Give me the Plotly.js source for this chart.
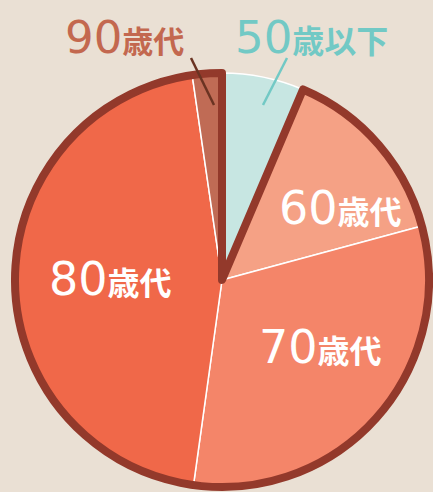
<!DOCTYPE html>
<html>
<head>
<meta charset="utf-8">
<script src="https://cdn.plot.ly/plotly-3.0.1.min.js"></script>
<style>
  html, body { margin: 0; padding: 0; background: #eae0d4; }
  #chart { width: 433px; height: 492px; }
</style>
</head>
<body>
<div id="chart"></div>
<script>
// Data
const categories = ['50歳以下', '60歳代', '70歳代', '80歳代', '90歳代'];
const shares = [6.4, 14.4, 31.4, 45.5, 2.3];
const sliceColors = ['#c7e6e2', '#f5a185', '#f48569', '#f06849', '#c06b55'];
const labelColors = ['#72c9c5', '#ffffff', '#ffffff', '#ffffff', '#c3684f'];

const W = 433, H = 492;
const cx = 222, cy = 280, r = 207;
const domain = {
  x: [(cx - r) / W, (cx + r) / W],
  y: [(H - cy - r) / H, (H - cy + r) / H]
};

// Base pie with thin white separators
const basePie = {
  type: 'pie',
  values: shares,
  labels: categories,
  sort: false,
  direction: 'clockwise',
  rotation: 0,
  domain: domain,
  marker: { colors: sliceColors, line: { color: '#ffffff', width: 1.5 } },
  textinfo: 'none',
  hoverinfo: 'skip',
  showlegend: false
};

// Outline group: everything except the first category
const restSum = shares.slice(1).reduce((a, b) => a + b, 0);
const outlinePie = {
  type: 'pie',
  values: [shares[0], restSum],
  labels: ['a', 'b'],
  sort: false,
  direction: 'clockwise',
  rotation: 0,
  domain: domain,
  marker: {
    colors: ['rgba(0,0,0,0)', 'rgba(0,0,0,0)'],
    line: { color: ['rgba(0,0,0,0)', '#93392b'], width: [0, 8] }
  },
  textinfo: 'none',
  hoverinfo: 'skip',
  showlegend: false
};

function labelHtml(cat, numSize, kanjiSize) {
  const m = cat.match(/^(\d+)(.*)$/);
  return '<span style="font-family:\'DejaVu Sans\';font-size:' + numSize + 'px">' + m[1] + '</span>' +
         '<b><span style="font-size:' + kanjiSize + 'px">' + m[2] + '</span></b>';
}

// Label placements (pixels)
const labelPos = [
  { x: 311, y: 37, n: 45, k: 32 },
  { x: 340, y: 208, n: 46, k: 32 },
  { x: 320, y: 347, n: 46, k: 32 },
  { x: 110, y: 279, n: 46, k: 32 },
  { x: 125, y: 37, n: 45, k: 31 }
];

const annotations = categories.map((c, i) => ({
  xref: 'paper', yref: 'paper',
  x: labelPos[i].x / W, y: 1 - labelPos[i].y / H,
  xanchor: 'center', yanchor: 'middle',
  text: labelHtml(c, labelPos[i].n, labelPos[i].k),
  showarrow: false,
  font: { family: '"Noto Sans CJK JP", "Noto Sans", sans-serif', color: labelColors[i] }
}));

const shapes = [
  { type: 'line', xref: 'paper', yref: 'paper',
    x0: 287 / W, y0: 1 - 58 / H, x1: 263 / W, y1: 1 - 105 / H,
    line: { color: '#72c9c5', width: 2.5 } },
  { type: 'line', xref: 'paper', yref: 'paper',
    x0: 191 / W, y0: 1 - 58 / H, x1: 214 / W, y1: 1 - 105 / H,
    line: { color: '#6a3322', width: 2.5 } }
];

const layout = {
  width: W, height: H,
  margin: { l: 0, r: 0, t: 0, b: 0 },
  paper_bgcolor: '#eae0d4',
  plot_bgcolor: '#eae0d4',
  showlegend: false,
  annotations: annotations,
  shapes: shapes
};

Plotly.newPlot('chart', [basePie, outlinePie], layout, { displayModeBar: false, staticPlot: true });
</script>
</body>
</html>
